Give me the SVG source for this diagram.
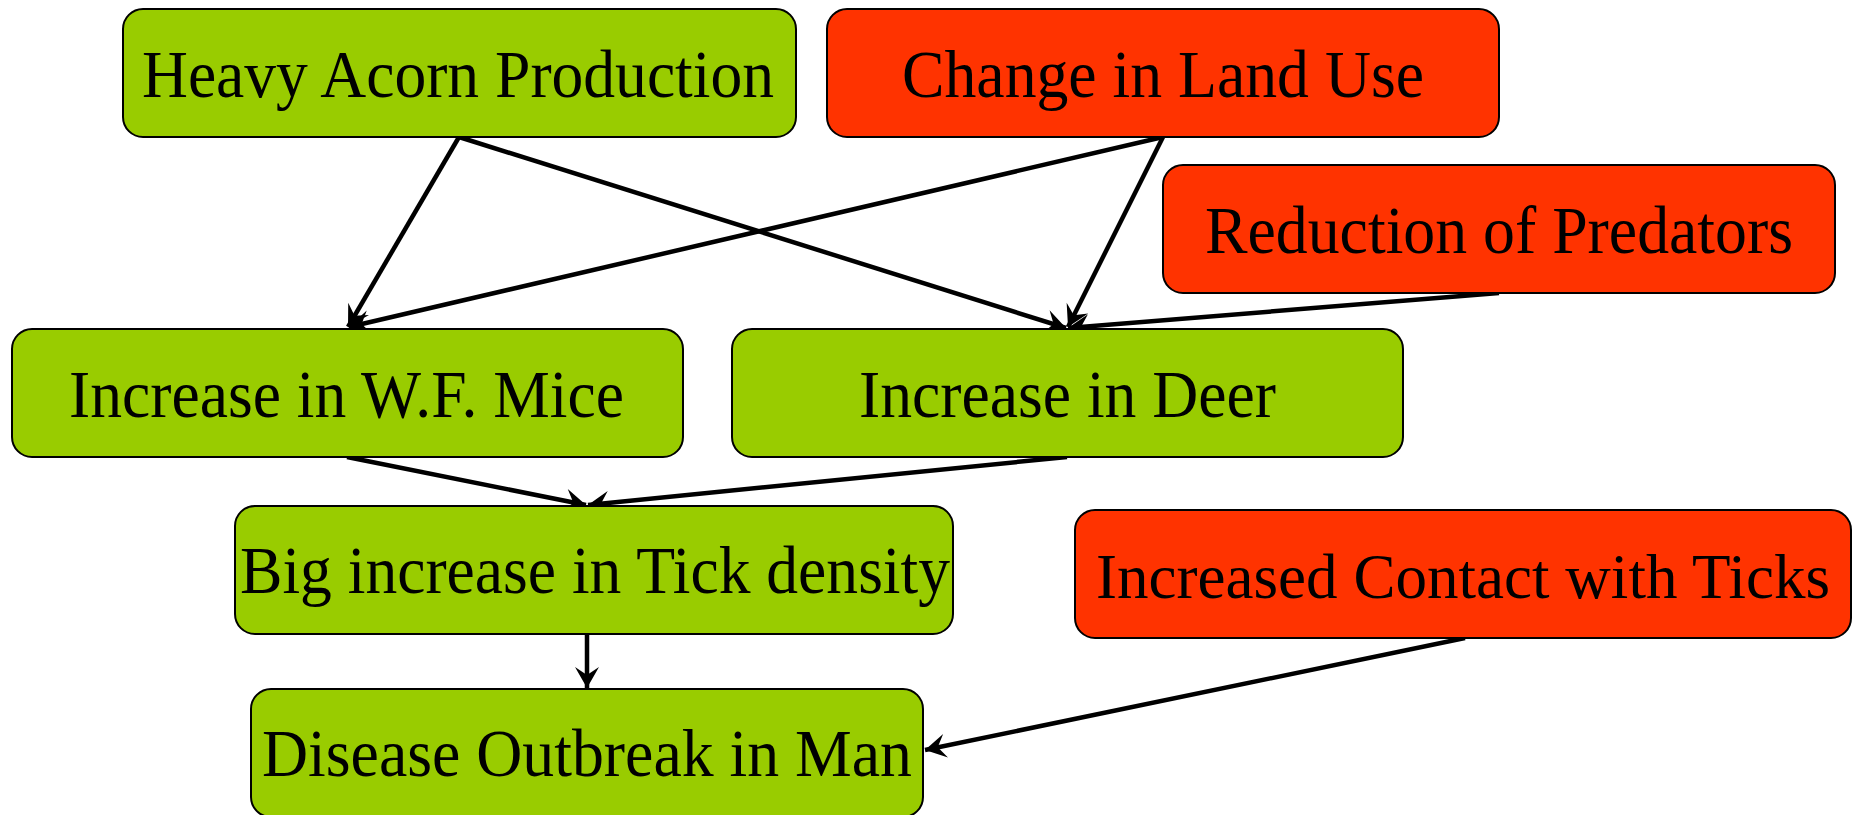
<svg xmlns="http://www.w3.org/2000/svg" width="1853" height="815" viewBox="0 0 1853 815">
<style>
.box{stroke:#000;stroke-width:2}
.g{fill:#99CC00}
.r{fill:#FF3300}
.t{font-family:"Liberation Serif","Times New Roman",serif;font-size:67px;fill:#000}
.c{fill:none;stroke:#000;stroke-width:4.5;marker-end:url(#ah)}
</style>
<defs>
<marker id="ah" markerUnits="userSpaceOnUse" viewBox="-25 -16 27 32" refX="0" refY="0" markerWidth="27" markerHeight="32" orient="auto">
<path d="M0,0 L-21,-12 L-13,0 L-21,12 Z" fill="#000"/>
</marker>
</defs>
<rect width="1853" height="815" fill="#fff"/>
<g id="connectors">
<line class="c" x1="459" y1="137" x2="348" y2="327"/>
<line class="c" x1="459" y1="137" x2="1066" y2="328"/>
<line class="c" x1="1163" y1="137" x2="349" y2="327"/>
<line class="c" x1="1163" y1="137" x2="1068" y2="327"/>
<line class="c" x1="1499" y1="293" x2="1068" y2="328"/>
<line class="c" x1="347" y1="457" x2="586" y2="505"/>
<line class="c" x1="1067" y1="457" x2="588" y2="505"/>
<line class="c" x1="587" y1="634" x2="587" y2="688"/>
<line class="c" x1="1465" y1="638" x2="925" y2="750"/>
</g>
<g id="heavy-acorn">
<rect class="box g" x="123" y="9" width="673" height="128" rx="20"/>
<text class="t" x="142" y="97" textLength="632" lengthAdjust="spacingAndGlyphs">Heavy Acorn Production</text>
</g>
<g id="land-use">
<rect class="box r" x="827" y="9" width="672" height="128" rx="20"/>
<text class="t" x="902" y="97" textLength="522" lengthAdjust="spacingAndGlyphs">Change in Land Use</text>
</g>
<g id="predators">
<rect class="box r" x="1163" y="165" width="672" height="128" rx="20"/>
<text class="t" x="1205" y="253" textLength="588" lengthAdjust="spacingAndGlyphs">Reduction of Predators</text>
</g>
<g id="mice">
<rect class="box g" x="12" y="329" width="671" height="128" rx="20"/>
<text class="t" x="69" y="417" textLength="555" lengthAdjust="spacingAndGlyphs">Increase in W.F. Mice</text>
</g>
<g id="deer">
<rect class="box g" x="732" y="329" width="671" height="128" rx="20"/>
<text class="t" x="859" y="417" textLength="417" lengthAdjust="spacingAndGlyphs">Increase in Deer</text>
</g>
<g id="tick-density">
<rect class="box g" x="235" y="506" width="718" height="128" rx="20"/>
<text class="t" x="240" y="593" textLength="710" lengthAdjust="spacingAndGlyphs">Big increase in Tick density</text>
</g>
<g id="contact">
<rect class="box r" x="1075" y="510" width="776" height="128" rx="20"/>
<text class="t" x="1096" y="598" font-size="64" style="font-size:64px" textLength="734" lengthAdjust="spacingAndGlyphs">Increased Contact with Ticks</text>
</g>
<g id="disease">
<rect class="box g" x="251" y="689" width="672" height="128" rx="20"/>
<text class="t" x="262" y="776" textLength="650" lengthAdjust="spacingAndGlyphs">Disease Outbreak in Man</text>
</g>
</svg>
